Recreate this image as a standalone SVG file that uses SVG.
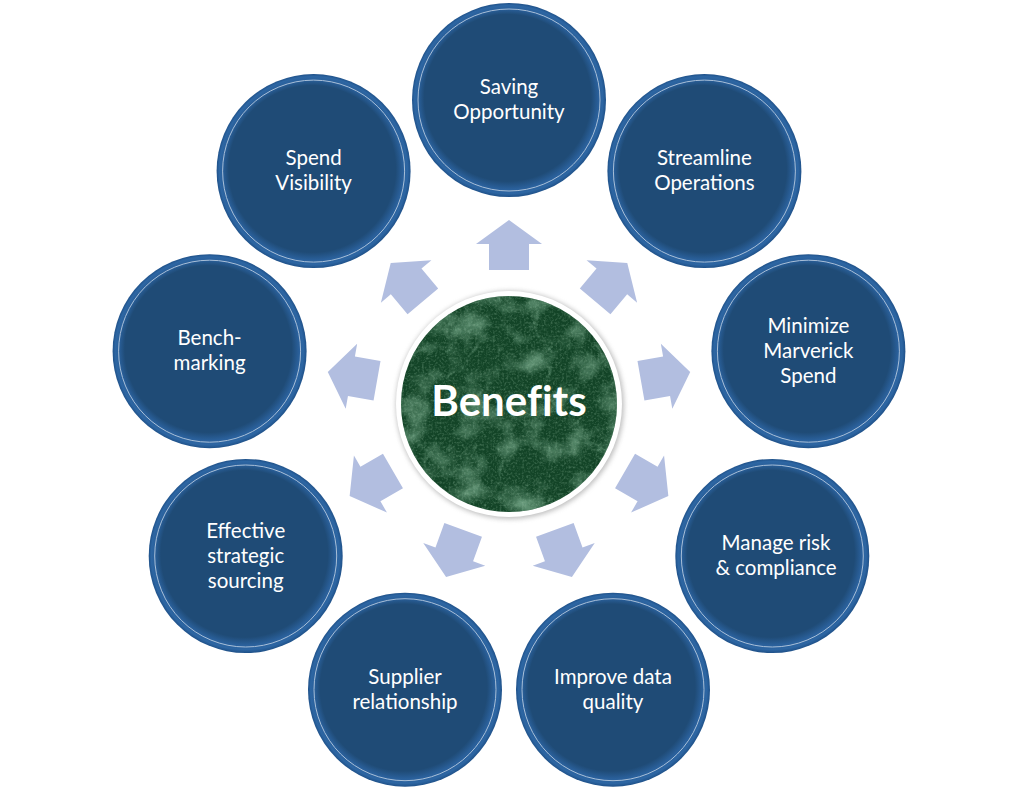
<svg xmlns="http://www.w3.org/2000/svg" width="1019" height="790" viewBox="0 0 1019 790">
<defs>
<style>
.node circle.b{fill:url(#blueGrad);}
.node circle.l{fill:none;stroke:#a8bfd8;stroke-width:1;}
.node text{font-family:Lato,"Open Sans","Liberation Sans",sans-serif;font-size:20.5px;fill:#ffffff;text-anchor:middle;}
.arrow{fill:#b2bee0;}
</style>
<radialGradient id="blueGrad" cx="50%" cy="50%" r="50%" fx="45%" fy="42%">
<stop offset="0" stop-color="#1f4b76"/>
<stop offset="0.86" stop-color="#1f4b76"/>
<stop offset="0.93" stop-color="#2a609b"/>
<stop offset="0.97" stop-color="#2d66a3"/>
<stop offset="1" stop-color="#1f5189"/>
</radialGradient>
<clipPath id="cclip"><circle cx="509" cy="404" r="108"/></clipPath>
<filter id="marble" x="0" y="0" width="100%" height="100%">
<feTurbulence type="fractalNoise" baseFrequency="0.035" numOctaves="5" seed="11" result="t"/>
<feColorMatrix in="t" type="matrix" values="0 0 0 0 0.24  0 0 0 0 0.48  0 0 0 0 0.32  1.8 0 0 0 -0.8"/>
</filter>
<filter id="veins" x="0" y="0" width="100%" height="100%">
<feTurbulence type="turbulence" baseFrequency="0.02" numOctaves="4" seed="4" result="t"/>
<feColorMatrix in="t" type="matrix" values="0 0 0 0 0.30  0 0 0 0 0.55  0 0 0 0 0.38  -3 0 0 0 0.45"/>
</filter>
<filter id="speck" x="0" y="0" width="100%" height="100%">
<feTurbulence type="fractalNoise" baseFrequency="0.45" numOctaves="2" seed="2" result="n"/>
<feColorMatrix in="n" type="matrix" values="0 0 0 0 0.30  0 0 0 0 0.52  0 0 0 0 0.36  0 0 0 1.6 -0.7"/>
</filter>
<filter id="shadow" x="-20%" y="-20%" width="140%" height="140%">
<feGaussianBlur stdDeviation="2.5"/>
</filter>
<polygon id="arr" points="-20,-134 20,-134 20,-160 33,-160 0,-184 -33,-160 -20,-160"/>
</defs>
<rect width="1019" height="790" fill="#ffffff"/>

<g id="connectors" class="arrow">
<use href="#arr" transform="translate(509 404) rotate(0)"/>
<use href="#arr" transform="translate(509 404) rotate(40)"/>
<use href="#arr" transform="translate(509 404) rotate(80)"/>
<use href="#arr" transform="translate(509 404) rotate(120)"/>
<use href="#arr" transform="translate(509 404) rotate(160)"/>
<use href="#arr" transform="translate(509 404) rotate(200)"/>
<use href="#arr" transform="translate(509 404) rotate(240)"/>
<use href="#arr" transform="translate(509 404) rotate(280)"/>
<use href="#arr" transform="translate(509 404) rotate(320)"/>
</g>

<g id="benefits">
<circle cx="510" cy="405" r="114" fill="#8a8a8a" opacity="0.55" filter="url(#shadow)"/>
<circle cx="509" cy="404" r="113" fill="#ffffff"/>
<circle cx="509" cy="404" r="108" fill="#134427"/>
<g clip-path="url(#cclip)">
<rect x="401" y="296" width="216" height="216" filter="url(#marble)" opacity="0.85"/>
<rect x="401" y="296" width="216" height="216" filter="url(#veins)" opacity="0.8"/>
<rect x="401" y="296" width="216" height="216" filter="url(#speck)" opacity="0.5"/>
</g>
<text x="509" y="416" font-family="Lato,'Open Sans','Liberation Sans',sans-serif" font-weight="bold" font-size="42" fill="#ffffff" text-anchor="middle" style="font-variant-ligatures:none;font-feature-settings:'liga' 0">Benefits</text>
</g>

<g id="saving-opportunity" class="node">
<circle class="b" cx="509" cy="100" r="97"/><circle class="l" cx="509" cy="100" r="91"/>
<text x="509" y="94">Saving</text><text x="509" y="119">Opportunity</text>
</g>
<g id="streamline-operations" class="node">
<circle class="b" cx="704.4" cy="171.1" r="97"/><circle class="l" cx="704.4" cy="171.1" r="91"/>
<text x="704.4" y="165">Streamline</text><text x="704.4" y="190">Operations</text>
</g>
<g id="minimize-marverick-spend" class="node">
<circle class="b" cx="808.4" cy="351.2" r="97"/><circle class="l" cx="808.4" cy="351.2" r="91"/>
<text x="808.4" y="333">Minimize</text><text x="808.4" y="358">Marverick</text><text x="808.4" y="383">Spend</text>
</g>
<g id="manage-risk" class="node">
<circle class="b" cx="772.3" cy="556" r="97"/><circle class="l" cx="772.3" cy="556" r="91"/>
<text x="776" y="550">Manage risk</text><text x="776" y="575">&amp; compliance</text>
</g>
<g id="improve-data-quality" class="node">
<circle class="b" cx="613" cy="689.7" r="97"/><circle class="l" cx="613" cy="689.7" r="91"/>
<text x="613" y="684">Improve data</text><text x="613" y="709">quality</text>
</g>
<g id="supplier-relationship" class="node">
<circle class="b" cx="405" cy="689.7" r="97"/><circle class="l" cx="405" cy="689.7" r="91"/>
<text x="405" y="684">Supplier</text><text x="405" y="709">relationship</text>
</g>
<g id="effective-strategic-sourcing" class="node">
<circle class="b" cx="245.7" cy="556" r="97"/><circle class="l" cx="245.7" cy="556" r="91"/>
<text x="245.7" y="538">Effective</text><text x="245.7" y="563">strategic</text><text x="245.7" y="588">sourcing</text>
</g>
<g id="benchmarking" class="node">
<circle class="b" cx="209.6" cy="351.2" r="97"/><circle class="l" cx="209.6" cy="351.2" r="91"/>
<text x="209.6" y="345">Bench-</text><text x="209.6" y="370">marking</text>
</g>
<g id="spend-visibility" class="node">
<circle class="b" cx="313.6" cy="171.1" r="97"/><circle class="l" cx="313.6" cy="171.1" r="91"/>
<text x="313.6" y="165">Spend</text><text x="313.6" y="190">Visibility</text>
</g>
</svg>
